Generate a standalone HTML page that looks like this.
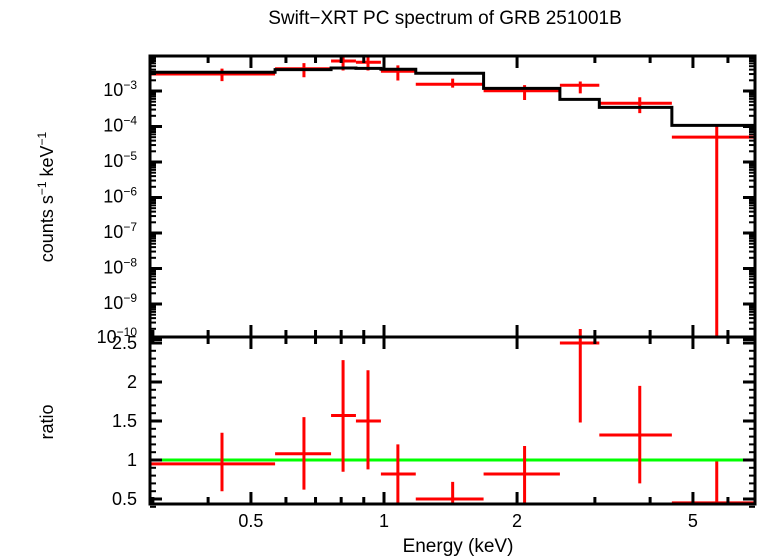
<!DOCTYPE html>
<html><head><meta charset="utf-8"><style>
body{margin:0;background:#fff;}
svg{display:block;font-family:"Liberation Sans",sans-serif;}
</style></head><body>
<svg id="c" width="758" height="556">
<text x="445" y="24" font-size="19" text-anchor="middle">Swift−XRT PC spectrum of GRB 251001B</text>
<text x="458" y="552" font-size="19" text-anchor="middle">Energy (keV)</text>
<text transform="translate(53,197) rotate(-90)" font-size="18" text-anchor="middle">counts s<tspan font-size="12" dy="-7">−1</tspan><tspan dy="7"> keV</tspan><tspan font-size="12" dy="-7">−1</tspan></text>
<text transform="translate(53,422) rotate(-90)" font-size="18" text-anchor="middle">ratio</text>
<g id="g"></g>
</svg>
<script>
const binLo=[0.296,0.567,0.759,0.864,0.984,1.18,1.68,2.50,3.07,4.48];
const binHi=[0.567,0.759,0.864,0.984,1.18,1.68,2.50,3.07,4.48,6.9];
const binMid=[0.43,0.659,0.808,0.92,1.075,1.43,2.08,2.78,3.79,5.66];
const counts=[3.0e-3,4.25e-3,7.0e-3,6.45e-3,3.6e-3,1.55e-3,1.02e-3,1.45e-3,4.5e-4,5.0e-5];
const model=[3.37e-3,4.0e-3,4.45e-3,4.35e-3,4.1e-3,3.17e-3,1.19e-3,5.8e-4,3.47e-4,1.08e-4];
const ratio=[0.95,1.08,1.57,1.5,0.82,0.5,0.82,2.5,1.32,0.45];
const ratioLo=[0.6,0.62,0.85,0.88,0.45,0.4,0.45,1.48,0.7,0];
const ratioHi=[1.35,1.55,2.28,2.15,1.2,0.72,1.18,3.2,1.95,0.98];
const xTicks=[0.5,1,2,5];
const xMinor=[0.3,0.4,0.6,0.7,0.8,0.9,3,4,6];
const yTopExp=[-3,-4,-5,-6,-7,-8,-9,-10];
const yBotTicks=[0.5,1,1.5,2,2.5];

const L=150,R=755,T1=56,B1=337,B2=504;
const X=e=>384+442*Math.log10(e);
const Y1=v=>91-35.5*(Math.log10(v)+3);
const Y2=r=>460-78*(r-1);
const g=document.getElementById('g');
const NS='http://www.w3.org/2000/svg';
function el(t,a,p){const e=document.createElementNS(NS,t);for(const k in a)e.setAttribute(k,a[k]);(p||g).appendChild(e);return e;}
const clip=(v,a,b)=>Math.max(a,Math.min(b,v));

// data points top
for(let i=0;i<counts.length;i++){
 const y=Y1(counts[i]);
 const lo=ratioLo[i]>0?clip(Y1(counts[i]*ratioLo[i]/ratio[i]),T1,B1):B1;
 const hi=clip(Y1(counts[i]*ratioHi[i]/ratio[i]),T1,B1);
 const p=el('path',{d:`M${X(binLo[i])},${y}L${Math.min(R,X(binHi[i]))},${y}M${X(binMid[i])},${lo}L${X(binMid[i])},${hi}`,stroke:'#f00','stroke-width':3,fill:'none'});
 
 
}
// model step line
let d='';
for(let i=0;i<model.length;i++){const y=Y1(model[i]);d+=(i?'L':'M')+X(binLo[i])+','+y+'L'+Math.min(R,X(binHi[i]))+','+y;}
let m=el('path',{d:d,fill:'none',stroke:'#000','stroke-width':3});


// unity line
let u=el('line',{x1:L,x2:R,y1:Y2(1),y2:Y2(1),stroke:'#0f0','stroke-width':3});


// ratio points
for(let i=0;i<ratio.length;i++){
 const y=clip(Y2(ratio[i]),T1,B2);
 const lo=clip(Y2(ratioLo[i]),B1,B2),hi=clip(Y2(ratioHi[i]),B1,B2);
 const hi2=ratioHi[i]>2.56?B1-8:hi;
 const p=el('path',{d:`M${X(binLo[i])},${y}L${Math.min(R,X(binHi[i]))},${y}M${X(binMid[i])},${lo}L${X(binMid[i])},${hi2}`,stroke:'#f00','stroke-width':3,fill:'none'});
 
 
}
// frames
for(const [t,b,n] of [[T1,B1,'top-panel-frame'],[B1,B2,'bottom-panel-frame']]){
 const f=el('rect',{x:L,y:t,width:R-L,height:b-t,fill:'none',stroke:'#000','stroke-width':3});
 
 
 for(const e of xTicks.concat(xMinor)){const len=xTicks.includes(e)?12:7;const x=X(e);
  el('line',{x1:x,x2:x,y1:t,y2:t+len,stroke:'#000','stroke-width':3});
  el('line',{x1:x,x2:x,y1:b,y2:b-len,stroke:'#000','stroke-width':3});}
}
// x labels
for(const e of xTicks){const t=el('text',{x:X(e),y:527,'font-size':18,'text-anchor':'middle'});t.textContent=e;
 
 }
// top y ticks
for(const ex of yTopExp){const y=Y1(Math.pow(10,ex));
 el('line',{x1:L,x2:L+12,y1:y,y2:y,stroke:'#000','stroke-width':3});
 el('line',{x1:R,x2:R-12,y1:y,y2:y,stroke:'#000','stroke-width':3});
 for(let k=2;k<10;k++){const yy=Y1(k*Math.pow(10,ex));if(yy<T1)continue;
  el('line',{x1:L,x2:L+6,y1:yy,y2:yy,stroke:'#000','stroke-width':2});
  el('line',{x1:R,x2:R-6,y1:yy,y2:yy,stroke:'#000','stroke-width':2});}
 const t=el('text',{x:137,y:Math.min(y+5,343),'font-size':18,'text-anchor':'end'});
 t.innerHTML='10<tspan font-size="12" dy="-7">'+(ex<0?'−':'')+Math.abs(ex)+'</tspan>';
 
 }
// bottom y ticks
for(const r of yBotTicks){const y=Y2(r);
 el('line',{x1:L,x2:L+12,y1:y,y2:y,stroke:'#000','stroke-width':3});
 el('line',{x1:R,x2:R-12,y1:y,y2:y,stroke:'#000','stroke-width':3});
 const t=el('text',{x:137,y:y+6,'font-size':18,'text-anchor':'end'});t.textContent=r;
 
 }
for(let r=0.4;r<2.56;r+=0.1){const y=Y2(r);
 el('line',{x1:L,x2:L+6,y1:y,y2:y,stroke:'#000','stroke-width':2});
 el('line',{x1:R,x2:R-6,y1:y,y2:y,stroke:'#000','stroke-width':2});}
</script>
</body></html>
